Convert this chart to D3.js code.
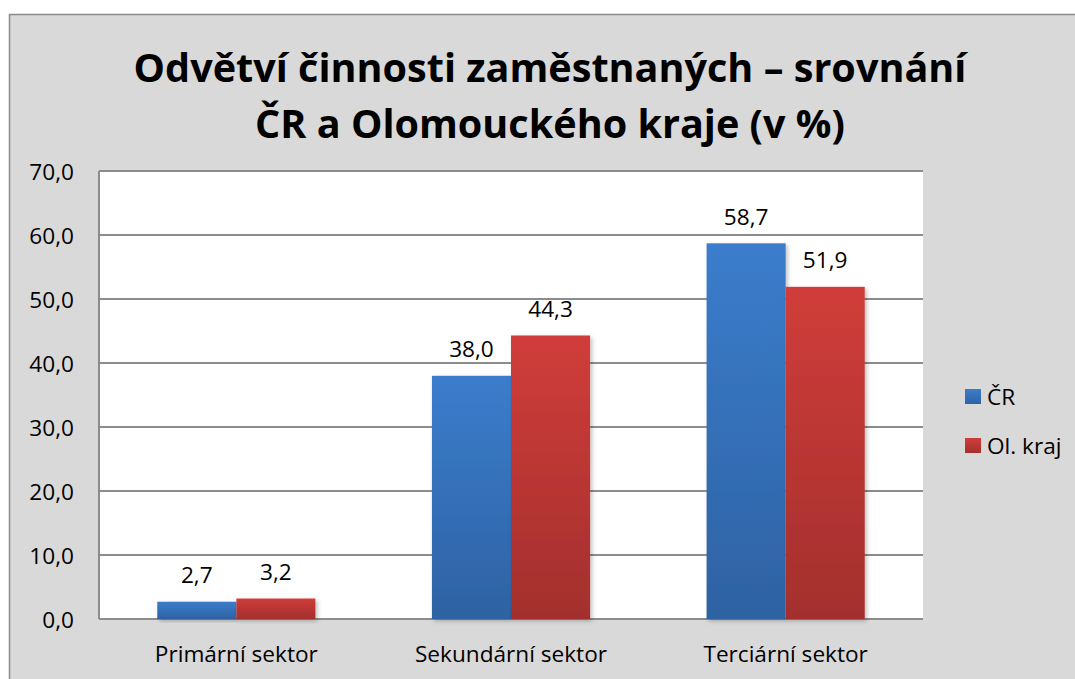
<!DOCTYPE html>
<html><head><meta charset="utf-8">
<script src="https://cdn.jsdelivr.net/npm/d3@7"></script>
<style>body{margin:0;background:#fff}svg{display:block}</style>
</head><body>
<svg id="c" width="1075" height="679"></svg>
<script>
const categories = ["Primární sektor", "Sekundární sektor", "Terciární sektor"];
const seriesNames = ["ČR", "Ol. kraj"];
const crValues = [2.7, 38.0, 58.7];
const olValues = [3.2, 44.3, 51.9];
const yTicks = [0, 10, 20, 30, 40, 50, 60, 70];
const titleLines = ["Odvětví činnosti zaměstnaných – srovnání", "ČR a Olomouckého kraje (v %)"];

(function () {
const svg = d3.select("#c");
const font = "'Open Sans', sans-serif";
const fmt = v => v.toFixed(1).replace(".", ",");

function fitSize(text, weight, target) {
  const t = svg.append("text").attr("font-family", font).attr("font-weight", weight).attr("font-size", 40).text(text);
  const w = t.node().getComputedTextLength();
  t.remove();
  return 40 * target / w;
}
const titleSize = fitSize(titleLines[0], "bold", 833);
const labelSize = fitSize(categories[0], "normal", 163);

// outer chart area
svg.append("rect").attr("x", 9.5).attr("y", 14.5).attr("width", 1075).attr("height", 700)
  .attr("fill", "#d9d9d9").attr("stroke", "#8c8c8c").attr("stroke-width", 1.5);

const defs = svg.append("defs");
function grad(id, t, b) {
  const g = defs.append("linearGradient").attr("id", id).attr("x1", 0).attr("y1", 0).attr("x2", 0).attr("y2", 1);
  g.append("stop").attr("offset", "0%").attr("stop-color", t);
  g.append("stop").attr("offset", "100%").attr("stop-color", b);
}
grad("gBlue", "#3b7dcc", "#2e62a3");
grad("gRed", "#d03d3a", "#a32f2d");
const f = defs.append("filter").attr("id", "sh").attr("x", "-10%").attr("y", "-10%").attr("width", "130%").attr("height", "130%");
f.append("feDropShadow").attr("dx", 2).attr("dy", 2).attr("stdDeviation", 2).attr("flood-color", "#000").attr("flood-opacity", 0.25);

const pL = 99, pR = 923, pT = 171, pB = 619;
const x = d3.scaleBand().domain(categories).range([pL, pR]).paddingInner(0).paddingOuter(0);
const x1 = d3.scaleBand().domain(seriesNames).range([0, x.bandwidth()]).paddingInner(0).paddingOuter(0.737);
const y = d3.scaleLinear().domain([0, 70]).range([pB, pT]);

// plot area
svg.append("rect").attr("x", pL).attr("y", pT).attr("width", pR - pL).attr("height", pB - pT).attr("fill", "#fff");
svg.append("g").selectAll("line").data(yTicks).join("line")
  .attr("x1", pL).attr("x2", pR).attr("y1", d => y(d)).attr("y2", d => y(d))
  .attr("stroke", "#8c8c8c").attr("stroke-width", 2);
svg.append("line").attr("x1", pL).attr("x2", pL).attr("y1", pT).attr("y2", pB)
  .attr("stroke", "#8c8c8c").attr("stroke-width", 2);

// y labels
svg.append("g").selectAll("text").data(yTicks).join("text")
  .attr("x", 74).attr("y", d => y(d) + 9).attr("text-anchor", "end")
  .attr("font-family", font).attr("font-size", labelSize).attr("fill", "#000").text(fmt);

// bars
const data = categories.map((c, i) => ({ c, vals: [crValues[i], olValues[i]] }));
const fills = ["url(#gBlue)", "url(#gRed)"];
const g = svg.append("g").selectAll("g").data(data).join("g").attr("transform", d => `translate(${x(d.c)},0)`);
g.selectAll("rect").data(d => d.vals.map((v, j) => ({ v, s: seriesNames[j], j }))).join("rect")
  .attr("x", d => x1(d.s)).attr("width", x1.bandwidth())
  .attr("y", d => y(d.v)).attr("height", d => y(0) - y(d.v))
  .attr("fill", d => fills[d.j]).attr("filter", "url(#sh)");
g.selectAll("text").data(d => d.vals.map((v, j) => ({ v, s: seriesNames[j], j }))).join("text")
  .attr("x", d => x1(d.s) + x1.bandwidth() / 2).attr("y", d => y(d.v) - 18.5)
  .attr("text-anchor", "middle").attr("font-family", font).attr("font-size", labelSize).attr("fill", "#000")
  .text(d => fmt(d.v));

// category labels
svg.append("g").selectAll("text").data(categories).join("text")
  .attr("x", d => x(d) + x.bandwidth() / 2).attr("y", 662).attr("text-anchor", "middle")
  .attr("font-family", font).attr("font-size", labelSize).attr("fill", "#000").text(d => d);

// title
svg.append("g").selectAll("text").data(titleLines).join("text")
  .attr("x", 550).attr("y", (d, i) => 82 + i * 56).attr("text-anchor", "middle")
  .attr("font-family", font).attr("font-weight", "bold").attr("font-size", titleSize).attr("fill", "#000").text(d => d);

// legend
const lg = svg.append("g").selectAll("g").data(seriesNames).join("g")
  .attr("transform", (d, i) => `translate(965,${389 + i * 49})`);
lg.append("rect").attr("width", 16).attr("height", 15).attr("fill", (d, i) => fills[i]);
lg.append("text").attr("x", 22).attr("y", 16).attr("font-family", font)
  .attr("font-size", labelSize).attr("fill", "#000").text(d => d);
})();
</script>
</body></html>
